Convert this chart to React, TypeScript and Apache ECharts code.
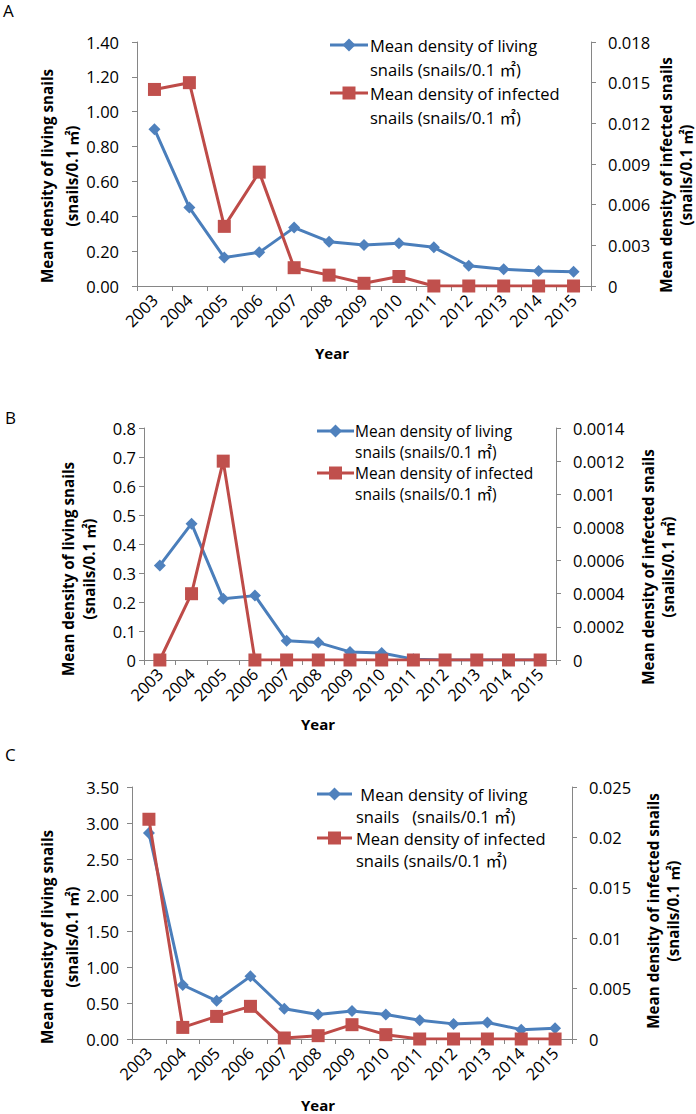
import React, { useEffect, useRef } from "react";
import * as echarts from "echarts";

const years = ["2003", "2004", "2005", "2006", "2007", "2008", "2009", "2010", "2011", "2012", "2013", "2014", "2015"];

const livingA = [0.9, 0.45, 0.163, 0.193, 0.335, 0.254, 0.235, 0.245, 0.222, 0.116, 0.096, 0.086, 0.082];
const infectedA = [0.0145, 0.015, 0.0044, 0.0084, 0.00135, 0.0008, 0.0002, 0.0007, 0, 0, 0, 0, 0];

const livingB = [0.326, 0.47, 0.211, 0.222, 0.066, 0.06, 0.028, 0.024, 0.003, 0, 0, 0, 0];
const infectedB = [0, 0.0004, 0.0012, 0, 0, 0, 0, 0, 0, 0, 0, 0, 0];

const livingC = [2.86, 0.75, 0.53, 0.87, 0.42, 0.34, 0.39, 0.34, 0.26, 0.21, 0.23, 0.13, 0.15];
const infectedC = [0.0218, 0.00115, 0.00224, 0.00324, 0.0001, 0.00033, 0.00142, 0.00043, 0, 0, 0, 0, 0];

const panelLetters = ["A", "B", "C"];
const leftAxisName = "Mean density of living snails\n(snails/0.1 ㎡)";
const rightAxisName = "Mean density of infected snails\n(snails/0.1 ㎡)";
const xAxisName = "Year";
const legendLiving = ["Mean density of living\nsnails (snails/0.1 ㎡)", "Mean density of living\nsnails (snails/0.1 ㎡)", " Mean density of living\nsnails   (snails/0.1 ㎡)"];
const legendInfected = "Mean density of infected\nsnails (snails/0.1 ㎡)";

const FONT = "'Open Sans', 'Noto Sans CJK SC', sans-serif";
const BLUE_LINE = "#4A7EBB";
const BLUE_MARK = "#4F81BD";
const RED_LINE = "#BE4B48";
const RED_MARK = "#C0504D";
const AXIS_GRAY = "#868686";
const TICK_FS = 16.5;
const NAME_FS = 15.2;

const panels = [
  {
    grid: { left: 137, top: 42, width: 454, height: 244 },
    living: livingA, infected: infectedA,
    lmax: 1.4, lint: 0.2, lfmt: (v: number) => v.toFixed(2), lmargin: 18,
    rmax: 0.018, rint: 0.003, rfmt: (v: number) => (v === 0 ? "0" : v.toFixed(3)),
    lname: { x: 59.5, y: 176, lh: 25 },
    rname: { x: 676, y: 175, lh: 20 },
    letter: { x: 3, y: 10 },
    year: { x: 332, y: 353 },
    legend: { x1: 330, x2: 368, r1: 45, r2: 93, tx: 370, lh: 24, fs: 16.5 },
  },
  {
    grid: { left: 144, top: 428, width: 412, height: 232 },
    living: livingB, infected: infectedB,
    lmax: 0.8, lint: 0.1, lfmt: (v: number) => (Math.round(v * 10) === 0 ? "0" : String(Math.round(v * 10) / 10)), lmargin: 8,
    rmax: 0.0014, rint: 0.0002, rfmt: (v: number) => String(parseFloat(v.toFixed(4))),
    lname: { x: 78.5, y: 569, lh: 21 },
    rname: { x: 658, y: 567, lh: 20 },
    letter: { x: 5, y: 417 },
    year: { x: 318, y: 724 },
    legend: { x1: 317, x2: 354, r1: 431, r2: 473, tx: 355, lh: 21, fs: 15.5 },
  },
  {
    grid: { left: 132, top: 787, width: 440, height: 252 },
    living: livingC, infected: infectedC,
    lmax: 3.5, lint: 0.5, lfmt: (v: number) => v.toFixed(2), lmargin: 13,
    rmax: 0.025, rint: 0.005, rfmt: (v: number) => String(parseFloat(v.toFixed(3))),
    lname: { x: 59.5, y: 937, lh: 25 },
    rname: { x: 663, y: 911, lh: 20 },
    letter: { x: 5, y: 754 },
    year: { x: 318, y: 1105 },
    legend: { x1: 317, x2: 352, r1: 794, r2: 838, tx: 356, lh: 22, fs: 16.5 },
  },
];

function legendGraphics(p: any, idx: number) {
  const L = p.legend;
  const mid = (L.x1 + L.x2) / 2;
  const els: any[] = [];
  els.push({ type: "line", shape: { x1: L.x1, y1: L.r1, x2: L.x2, y2: L.r1 }, style: { stroke: BLUE_LINE, lineWidth: 3 } });
  els.push({ type: "polygon", shape: { points: [[mid, L.r1 - 6.5], [mid + 6.5, L.r1], [mid, L.r1 + 6.5], [mid - 6.5, L.r1]] }, style: { fill: BLUE_MARK } });
  els.push({ type: "text", x: L.tx, y: L.r1 - L.lh / 2, style: { text: legendLiving[idx], font: `${L.fs}px ${FONT}`, fill: "#000", lineHeight: L.lh, verticalAlign: "top", align: "left" } });
  els.push({ type: "line", shape: { x1: L.x1, y1: L.r2, x2: L.x2, y2: L.r2 }, style: { stroke: RED_LINE, lineWidth: 3 } });
  els.push({ type: "rect", shape: { x: mid - 6.5, y: L.r2 - 6.5, width: 13, height: 13 }, style: { fill: RED_MARK } });
  els.push({ type: "text", x: L.tx, y: L.r2 - L.lh / 2, style: { text: legendInfected, font: `${L.fs}px ${FONT}`, fill: "#000", lineHeight: L.lh, verticalAlign: "top", align: "left" } });
  return els;
}

function nameGraphic(text: string, n: any) {
  return {
    type: "text", x: n.x, y: n.y, rotation: Math.PI / 2,
    style: { text, font: `bold ${NAME_FS}px ${FONT}`, fill: "#000", lineHeight: n.lh, align: "center", verticalAlign: "middle" },
  };
}

export default function App() {
  const ref = useRef<HTMLDivElement>(null);
  useEffect(() => {
    if (!ref.current) return;
    const chart = echarts.init(ref.current, undefined, { renderer: "svg" });
    const axisLine = { show: true, lineStyle: { color: AXIS_GRAY, width: 1 } };
    const axisTick = { show: true, length: 5, lineStyle: { color: AXIS_GRAY } };
    const grid: any[] = [];
    const xAxis: any[] = [];
    const yAxis: any[] = [];
    const series: any[] = [];
    const graphic: any[] = [];
    panels.forEach((p, i) => {
      grid.push({ ...p.grid, containLabel: false });
      xAxis.push({
        type: "category", gridIndex: i, data: years, boundaryGap: true,
        axisLine, axisTick: { ...axisTick, alignWithLabel: false, interval: 0 },
        axisLabel: { rotate: 45, interval: 0, margin: 11, color: "#000", fontSize: TICK_FS, fontFamily: FONT },
        splitLine: { show: false },
      });
      yAxis.push({
        type: "value", gridIndex: i, position: "left", min: 0, max: p.lmax, interval: p.lint,
        axisLine, axisTick,
        axisLabel: { formatter: p.lfmt, margin: p.lmargin, color: "#000", fontSize: TICK_FS, fontFamily: FONT },
        splitLine: { show: false },
      });
      yAxis.push({
        type: "value", gridIndex: i, position: "right", min: 0, max: p.rmax, interval: p.rint,
        axisLine, axisTick,
        axisLabel: { formatter: p.rfmt, margin: 17, color: "#000", fontSize: TICK_FS, fontFamily: FONT },
        splitLine: { show: false },
      });
      series.push({
        type: "line", name: "living", xAxisIndex: i, yAxisIndex: i * 2, data: p.living,
        symbol: "diamond", symbolSize: 12, showAllSymbol: true,
        lineStyle: { color: BLUE_LINE, width: 3 }, itemStyle: { color: BLUE_MARK }, z: 2,
      });
      series.push({
        type: "line", name: "infected", xAxisIndex: i, yAxisIndex: i * 2 + 1, data: p.infected,
        symbol: "rect", symbolSize: 13, showAllSymbol: true,
        lineStyle: { color: RED_LINE, width: 3 }, itemStyle: { color: RED_MARK }, z: 3,
      });
      graphic.push({ type: "text", x: p.letter.x, y: p.letter.y, style: { text: panelLetters[i], font: `17px ${FONT}`, fill: "#000", verticalAlign: "middle" } });
      graphic.push({ type: "text", x: p.year.x, y: p.year.y, style: { text: xAxisName, font: `bold 15px ${FONT}`, fill: "#000", align: "center", verticalAlign: "middle" } });
      graphic.push(nameGraphic(leftAxisName, p.lname));
      graphic.push(nameGraphic(rightAxisName, p.rname));
      graphic.push(...legendGraphics(p, i));
    });
    chart.setOption({ animation: false, backgroundColor: "#fff", grid, xAxis, yAxis, series, graphic, tooltip: { show: false } });
    return () => chart.dispose();
  }, []);
  return <div ref={ref} style={{ position: "absolute", left: 0, top: 0, width: 696, height: 1114 }} />;
}
